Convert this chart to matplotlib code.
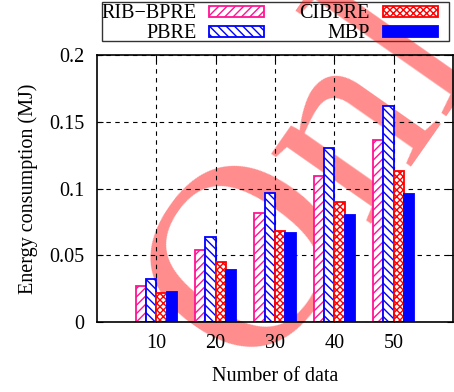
import matplotlib
matplotlib.use("Agg")
import matplotlib.pyplot as plt
from matplotlib.patches import Rectangle
import numpy as np

# Data
num_data = [10, 20, 30, 40, 50]
series_names = ["RIB\u2212BPRE", "PBRE", "CIBPRE", "MBP"]
rib_bpre = [0.027, 0.054, 0.082, 0.109, 0.136]
pbre = [0.032, 0.064, 0.097, 0.130, 0.162]
cibpre = [0.022, 0.045, 0.068, 0.090, 0.113]
mbp = [0.0225, 0.039, 0.067, 0.080, 0.096]
y_ticks = [0, 0.05, 0.1, 0.15, 0.2]
y_tick_labels = ["0", "0.05", "0.1", "0.15", "0.2"]

plt.rcParams["font.family"] = ["Liberation Serif", "DejaVu Serif"]
plt.rcParams["hatch.linewidth"] = 1.0
FS = 14.5

fig = plt.figure(figsize=(4.54, 3.92), dpi=100)
ax = fig.add_axes([97 / 454, 1 - 322 / 392, 356 / 454, 267 / 392])

styles = [
    dict(facecolor="white", edgecolor="#ff1493", hatch="////"),
    dict(facecolor="white", edgecolor="#0000ff", hatch="\\\\\\\\"),
    dict(facecolor="white", edgecolor="#ff0000", hatch="xxxxx"),
    dict(facecolor="#0000ff", edgecolor="#0000ff", hatch=None),
]
all_series = [rib_bpre, pbre, cibpre, mbp]
width = 1.75
offsets = (np.arange(4) - 1.5) * width
x = np.array(num_data, dtype=float)
for vals, st, off in zip(all_series, styles, offsets):
    ax.bar(x + off, vals, width=width, linewidth=1.3, zorder=3, **st)

ax.set_xlim(0, 60)
ax.set_ylim(0, 0.2)
ax.set_xticks(num_data)
ax.set_xticklabels([str(v) for v in num_data], fontsize=FS)
ax.set_yticks(y_ticks)
ax.set_yticklabels(y_tick_labels, fontsize=FS)
ax.tick_params(direction="in", length=4, width=0.8, top=True, right=True)
ax.tick_params(axis="x", pad=9)
ax.tick_params(axis="y", pad=9)
ax.grid(True, color="black", linestyle=(0, (4, 4)), linewidth=0.8)
ax.set_axisbelow(False)
for g in ax.get_xgridlines() + ax.get_ygridlines():
    g.set_zorder(1.5)
for sp in ax.spines.values():
    sp.set_linewidth(1.2)
    sp.set_zorder(4)

ax.set_xlabel("Number of data", fontsize=FS, labelpad=10)
ax.set_ylabel("Energy consumption (MJ)", fontsize=FS, labelpad=8)

# Legend box drawn in figure pixels
W, H = 454, 392
def fx(px):
    return px / W
def fy(py):
    return 1 - py / H

frame = Rectangle((fx(102), fy(41)), fx(449) - fx(102), fy(2) - fy(41),
                  transform=fig.transFigure, fill=False, edgecolor="#333333",
                  linewidth=1.0, zorder=0.9, clip_on=False)
ax.add_artist(frame)
entries = [
    (series_names[0], styles[0], 197, 209, 11),
    (series_names[1], styles[1], 197, 209, 31),
    (series_names[2], styles[2], 370, 383, 11),
    (series_names[3], styles[3], 370, 383, 31),
]
for name, st, tx, hx, cy in entries:
    ax.text(fx(tx), fy(cy + 6.5), name, transform=fig.transFigure, ha="right",
            va="baseline", fontsize=FS, zorder=5, clip_on=False)
    r = Rectangle((fx(hx), fy(cy + 5.5)), fx(55), 11 / H,
                  transform=fig.transFigure, linewidth=1.3, zorder=5,
                  clip_on=False, **st)
    ax.add_artist(r)

# Watermark, anchored at the left end of its baseline
ax.text(0.561, 0.042, "Only", transform=fig.transFigure, rotation=55,
        rotation_mode="anchor", ha="left", va="baseline", fontsize=190,
        color="red", alpha=0.45, zorder=1, clip_on=False)

fig.savefig("out.png", dpi=100)
